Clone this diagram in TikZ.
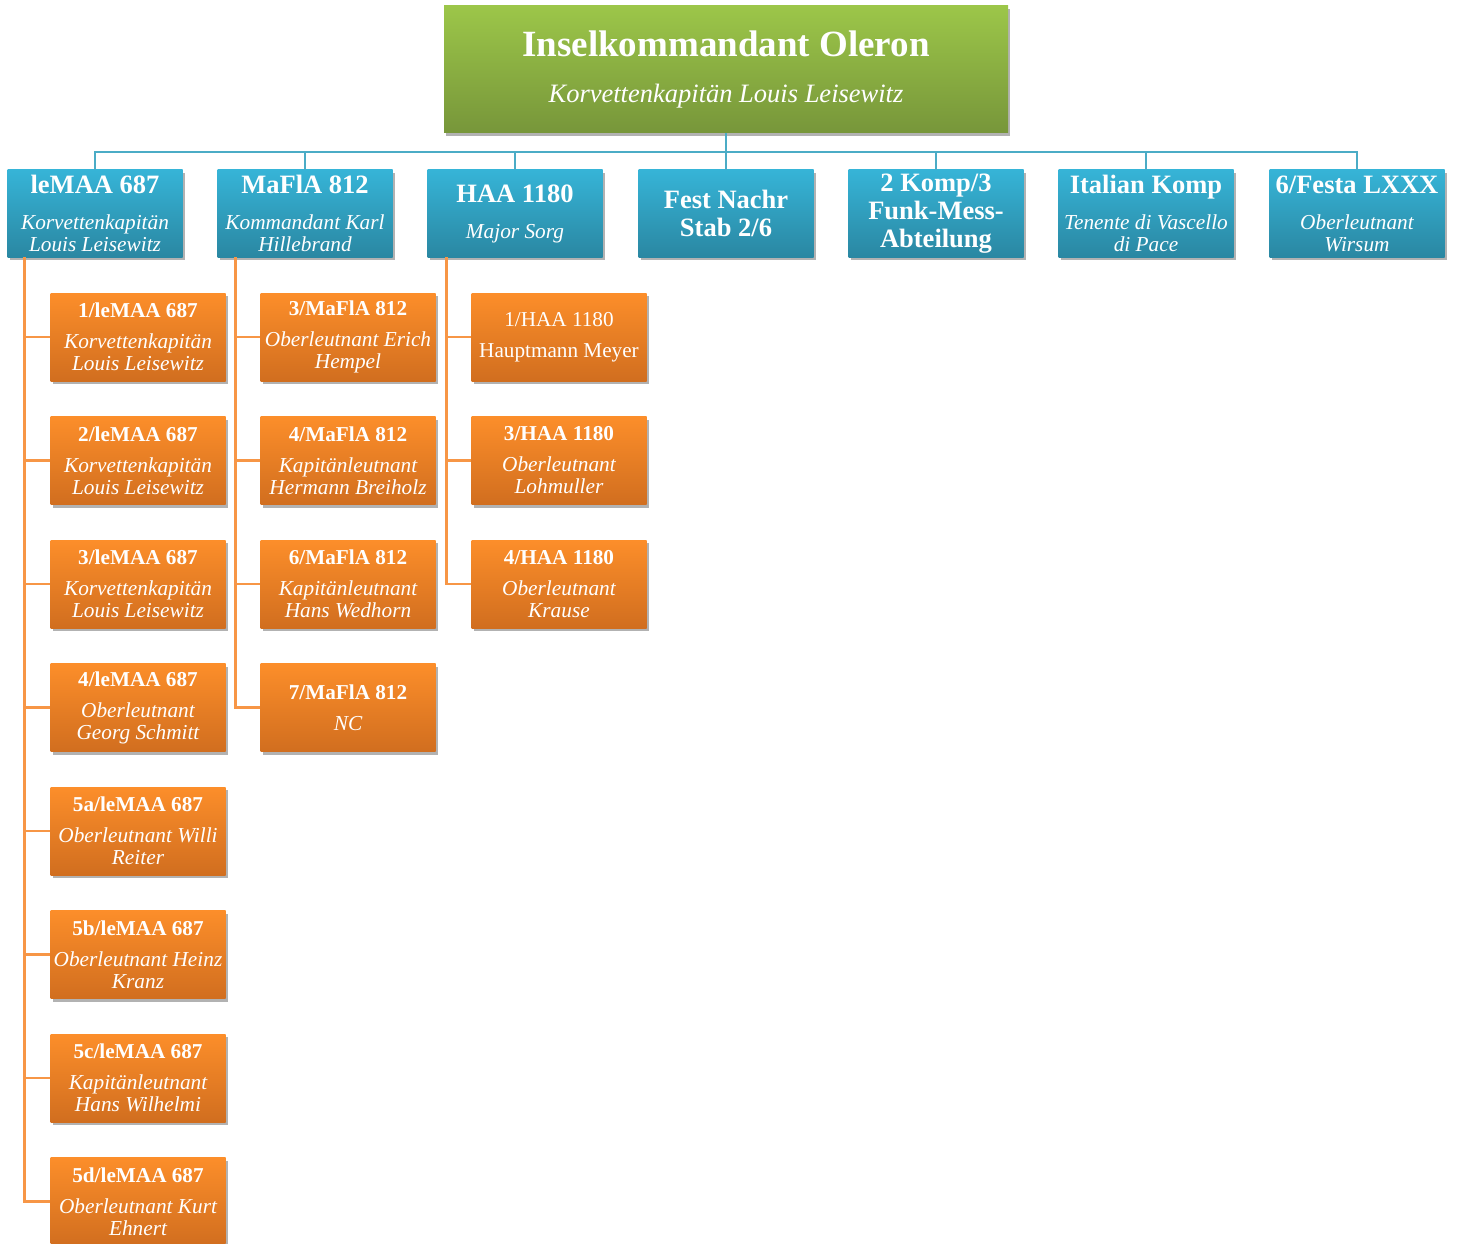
\documentclass[tikz,border=0pt]{standalone}
\usepackage{fontspec}
\setmainfont{Liberation Serif}
\usepackage{tikz}
\usetikzlibrary{shadows}
\definecolor{grtop}{HTML}{9CC649}
\definecolor{grbot}{HTML}{77963A}
\definecolor{bltop}{HTML}{36B4D7}
\definecolor{blbot}{HTML}{2A87A2}
\definecolor{ortop}{HTML}{FC8E2A}
\definecolor{orbot}{HTML}{D16E1F}
\definecolor{blline}{HTML}{4BACC6}
\definecolor{orline}{HTML}{F79646}
\newcommand\bighd[1]{{\fontsize{37}{40}\selectfont\bfseries\upshape #1}}
\newcommand\midhd[1]{{\fontsize{26.5}{28}\selectfont\bfseries\upshape #1}}
\newcommand\smhd[1]{{\fontsize{21.2}{22}\selectfont\bfseries\upshape #1}}

\begin{document}
\begin{tikzpicture}[x=1pt,y=-1pt,
  box/.style={inner sep=0pt,align=center,text=white,
    drop shadow={shadow xshift=2pt,shadow yshift=-3pt,opacity=.3,fill=black}},
  chief/.style={box,minimum width=564pt,minimum height=127pt,top color=grtop,bottom color=grbot,
    font=\fontsize{26.5}{30}\selectfont\itshape},
  unit/.style={box,minimum width=175pt,minimum height=87pt,top color=bltop,bottom color=blbot,
    font=\fontsize{21.3}{22}\selectfont\itshape},
  unitb/.style={unit,font=\fontsize{26.5}{28}\selectfont\bfseries},
  comp/.style={box,minimum width=175pt,minimum height=88pt,top color=ortop,bottom color=orbot,
    font=\fontsize{21.3}{22}\selectfont\itshape},
  bl/.style={draw=blline,line width=2.5pt},
  or/.style={draw=orline,line width=2.5pt}]
\useasboundingbox (0,0) rectangle (1457,1244);

\node[chief] (ins) at (726,69.5) {\bighd{Inselkommandant Oleron}\\[16pt]Korvettenkapitän Louis Leisewitz};

\node[unit] (le) at (95,213.5) {\midhd{leMAA 687}\\[14pt]Korvettenkapitän\\Louis Leisewitz};
\node[unit] (mf) at (305,213.5) {\midhd{MaFlA 812}\\[14pt]Kommandant Karl\\Hillebrand};
\node[unit] (haa) at (515,213.5) {\midhd{HAA 1180}\\[14pt]Major Sorg};
\node[unitb] (fn) at (726,213.5) {Fest Nachr\\Stab 2/6};
\node[unitb] (fm) at (936,213.5) {2 Komp/3\\Funk-Mess-\\Abteilung};
\node[unit] (it) at (1146,213.5) {\midhd{Italian Komp}\\[14pt]Tenente di Vascello\\di Pace};
\node[unit] (fe) at (1357,213.5) {\midhd{6/Festa LXXX}\\[14pt]Oberleutnant\\Wirsum};

\draw[bl] (ins.south) -- ++(0,19) coordinate (bus);
\foreach \u in {le,mf,haa,fn,fm,it,fe}
  \draw[bl] (bus) -| (\u.north);

\node[comp] (le1) at (138,337) {\smhd{1/leMAA 687}\\[9pt]Korvettenkapitän\\Louis Leisewitz};
\node[comp] (le2) at (138,460.5) {\smhd{2/leMAA 687}\\[9pt]Korvettenkapitän\\Louis Leisewitz};
\node[comp] (le3) at (138,584) {\smhd{3/leMAA 687}\\[9pt]Korvettenkapitän\\Louis Leisewitz};
\node[comp] (le4) at (138,707.5) {\smhd{4/leMAA 687}\\[9pt]Oberleutnant\\Georg Schmitt};
\node[comp] (le5) at (138,831) {\smhd{5a/leMAA 687}\\[9pt]Oberleutnant Willi\\Reiter};
\node[comp] (le6) at (138,954.5) {\smhd{5b/leMAA 687}\\[9pt]Oberleutnant Heinz\\Kranz};
\node[comp] (le7) at (138,1078) {\smhd{5c/leMAA 687}\\[9pt]Kapitänleutnant\\Hans Wilhelmi};
\node[comp] (le8) at (138,1201.5) {\smhd{5d/leMAA 687}\\[9pt]Oberleutnant Kurt\\Ehnert};

\node[comp] (mf1) at (348,337) {\smhd{3/MaFlA 812}\\[9pt]Oberleutnant Erich\\Hempel};
\node[comp] (mf2) at (348,460.5) {\smhd{4/MaFlA 812}\\[9pt]Kapitänleutnant\\Hermann Breiholz};
\node[comp] (mf3) at (348,584) {\smhd{6/MaFlA 812}\\[9pt]Kapitänleutnant\\Hans Wedhorn};
\node[comp] (mf4) at (348,707.5) {\smhd{7/MaFlA 812}\\[9pt]NC};

\node[comp,font=\fontsize{21.2}{22}\selectfont] (haa1) at (559,337) {1/HAA 1180\\[9pt]Hauptmann Meyer};
\node[comp] (haa2) at (559,460.5) {\smhd{3/HAA 1180}\\[9pt]Oberleutnant\\Lohmuller};
\node[comp] (haa3) at (559,584) {\smhd{4/HAA 1180}\\[9pt]Oberleutnant\\Krause};

\coordinate (lex) at ([xshift=17pt]le.south west);
\coordinate (mfx) at ([xshift=18pt]mf.south west);
\coordinate (haax) at ([xshift=19pt]haa.south west);
\foreach \i in {1,...,8}
  \draw[or] (lex) |- (le\i.west);
\foreach \i in {1,...,4}
  \draw[or] (mfx) |- (mf\i.west);
\foreach \i in {1,...,3}
  \draw[or] (haax) |- (haa\i.west);
\end{tikzpicture}
\end{document}
